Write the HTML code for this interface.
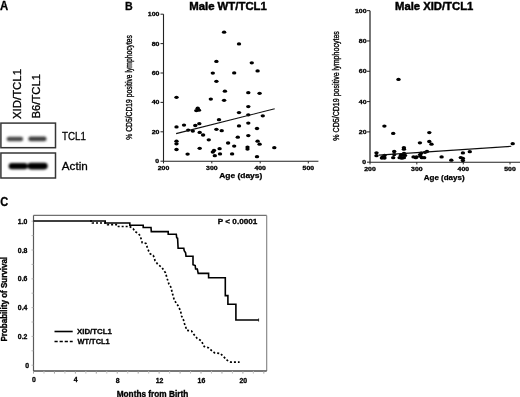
<!DOCTYPE html>
<html><head><meta charset="utf-8"><style>
html,body{margin:0;padding:0;background:#fff;width:520px;height:397px;overflow:hidden}
svg{display:block;font-family:"Liberation Sans", sans-serif}
</style></head><body>
<svg width="520" height="397" viewBox="0 0 520 397">
<defs><filter id="blur1" x="-20%" y="-50%" width="140%" height="200%"><feGaussianBlur stdDeviation="0.9"/></filter>
<filter id="soft" x="0" y="0" width="100%" height="100%"><feGaussianBlur stdDeviation="0.3"/></filter></defs>
<rect width="520" height="397" fill="#fff"/>
<g filter="url(#soft)">
<text x="0" y="9.6" font-size="12" font-weight="bold" text-anchor="start" fill="#000" textLength="8.2" lengthAdjust="spacingAndGlyphs" stroke="#000" stroke-width="0.3">A</text>
<text transform="translate(21.0,119) rotate(-90)" x="0" y="0" font-size="11.2" font-weight="normal" fill="#000" textLength="50" lengthAdjust="spacingAndGlyphs" stroke="#000" stroke-width="0.3">XID/TCL1</text>
<text transform="translate(40.0,118.5) rotate(-90)" x="0" y="0" font-size="11.2" font-weight="normal" fill="#000" textLength="44.5" lengthAdjust="spacingAndGlyphs" stroke="#000" stroke-width="0.3">B6/TCL1</text>
<rect x="0.9" y="123.1" width="54.6" height="24.6" fill="none" stroke="#363636" stroke-width="1.5"/>
<rect x="0.9" y="153.0" width="54.6" height="25.0" fill="none" stroke="#363636" stroke-width="1.5"/>
<g filter="url(#blur1)">
<rect x="6.6" y="136.8" width="16.6" height="4.4" rx="2.2" fill="#4a4a4a"/>
<rect x="28.3" y="136.6" width="18.3" height="4.6" rx="2.3" fill="#404040"/>
<rect x="8.6" y="162.9" width="19.2" height="6.4" rx="3.2" fill="#000"/>
<rect x="27.5" y="162.7" width="20.2" height="6.7" rx="3.3" fill="#000"/>
</g>
<text x="62.1" y="140.1" font-size="11.4" font-weight="normal" text-anchor="start" fill="#000" textLength="23.9" lengthAdjust="spacingAndGlyphs" stroke="#000" stroke-width="0.3">TCL1</text>
<text x="61.8" y="169.9" font-size="11.4" font-weight="normal" text-anchor="start" fill="#000" textLength="26.0" lengthAdjust="spacingAndGlyphs" stroke="#000" stroke-width="0.3">Actin</text>
<text x="125" y="10" font-size="11.8" font-weight="bold" text-anchor="start" fill="#000" textLength="7.7" lengthAdjust="spacingAndGlyphs" stroke="#000" stroke-width="0.3">B</text>
<text x="189.2" y="9.6" font-size="11.5" font-weight="bold" text-anchor="start" fill="#000" textLength="77.7" lengthAdjust="spacingAndGlyphs" stroke="#000" stroke-width="0.45">Male WT/TCL1</text>
<line x1="163.5" y1="14.199999999999989" x2="163.5" y2="161.2" stroke="#222" stroke-width="1.1"/>
<line x1="163.5" y1="161.2" x2="318.4" y2="161.2" stroke="#222" stroke-width="1.1"/>
<line x1="160.5" y1="161.2" x2="163.5" y2="161.2" stroke="#222" stroke-width="1"/>
<text x="159.1" y="163.25" font-size="5.7" font-weight="bold" text-anchor="end" fill="#000" textLength="3.85" lengthAdjust="spacingAndGlyphs" stroke="#000" stroke-width="0.3">0</text>
<line x1="160.5" y1="131.79999999999998" x2="163.5" y2="131.79999999999998" stroke="#222" stroke-width="1"/>
<text x="159.4" y="133.85" font-size="5.7" font-weight="bold" text-anchor="end" fill="#000" textLength="7.7" lengthAdjust="spacingAndGlyphs" stroke="#000" stroke-width="0.3">20</text>
<line x1="160.5" y1="102.39999999999999" x2="163.5" y2="102.39999999999999" stroke="#222" stroke-width="1"/>
<text x="159.4" y="104.44999999999999" font-size="5.7" font-weight="bold" text-anchor="end" fill="#000" textLength="7.7" lengthAdjust="spacingAndGlyphs" stroke="#000" stroke-width="0.3">40</text>
<line x1="160.5" y1="72.99999999999999" x2="163.5" y2="72.99999999999999" stroke="#222" stroke-width="1"/>
<text x="159.4" y="75.04999999999998" font-size="5.7" font-weight="bold" text-anchor="end" fill="#000" textLength="7.7" lengthAdjust="spacingAndGlyphs" stroke="#000" stroke-width="0.3">60</text>
<line x1="160.5" y1="43.599999999999994" x2="163.5" y2="43.599999999999994" stroke="#222" stroke-width="1"/>
<text x="159.4" y="45.64999999999999" font-size="5.7" font-weight="bold" text-anchor="end" fill="#000" textLength="7.7" lengthAdjust="spacingAndGlyphs" stroke="#000" stroke-width="0.3">80</text>
<line x1="160.5" y1="14.199999999999989" x2="163.5" y2="14.199999999999989" stroke="#222" stroke-width="1"/>
<text x="159.4" y="16.24999999999999" font-size="5.7" font-weight="bold" text-anchor="end" fill="#000" textLength="11.55" lengthAdjust="spacingAndGlyphs" stroke="#000" stroke-width="0.3">100</text>
<line x1="163.5" y1="161.2" x2="163.5" y2="163.39999999999998" stroke="#222" stroke-width="1"/>
<text x="163.5" y="169.7" font-size="5.7" font-weight="bold" text-anchor="middle" fill="#000" textLength="11.5" lengthAdjust="spacingAndGlyphs" stroke="#000" stroke-width="0.3">200</text>
<line x1="211.8" y1="161.2" x2="211.8" y2="163.39999999999998" stroke="#222" stroke-width="1"/>
<text x="211.8" y="169.7" font-size="5.7" font-weight="bold" text-anchor="middle" fill="#000" textLength="11.5" lengthAdjust="spacingAndGlyphs" stroke="#000" stroke-width="0.3">300</text>
<line x1="260.2" y1="161.2" x2="260.2" y2="163.39999999999998" stroke="#222" stroke-width="1"/>
<text x="260.2" y="169.7" font-size="5.7" font-weight="bold" text-anchor="middle" fill="#000" textLength="11.5" lengthAdjust="spacingAndGlyphs" stroke="#000" stroke-width="0.3">400</text>
<line x1="308.3" y1="161.2" x2="308.3" y2="163.39999999999998" stroke="#222" stroke-width="1"/>
<text x="308.3" y="169.7" font-size="5.7" font-weight="bold" text-anchor="middle" fill="#000" textLength="11.5" lengthAdjust="spacingAndGlyphs" stroke="#000" stroke-width="0.3">500</text>
<text x="219.2" y="178.0" font-size="6.8" font-weight="bold" text-anchor="start" fill="#000" textLength="43.10000000000002" lengthAdjust="spacingAndGlyphs" stroke="#000" stroke-width="0.25">Age (days)</text>
<text transform="translate(131.7,139.7) rotate(-90)" x="0" y="0" font-size="8.7" font-weight="normal" fill="#000" textLength="104.6" lengthAdjust="spacingAndGlyphs" stroke="#000" stroke-width="0.35">% CD5/CD19 positive lymphocytes</text>
<ellipse cx="224.1" cy="32.2" rx="2.2" ry="1.65" fill="#000"/>
<ellipse cx="239.0" cy="43.9" rx="2.2" ry="1.65" fill="#000"/>
<ellipse cx="216.4" cy="61.4" rx="2.2" ry="1.65" fill="#000"/>
<ellipse cx="212.8" cy="73.1" rx="2.2" ry="1.65" fill="#000"/>
<ellipse cx="234.2" cy="72.9" rx="2.2" ry="1.65" fill="#000"/>
<ellipse cx="216.4" cy="81.3" rx="2.2" ry="1.65" fill="#000"/>
<ellipse cx="251.8" cy="62.8" rx="2.2" ry="1.65" fill="#000"/>
<ellipse cx="257.6" cy="70.9" rx="2.2" ry="1.65" fill="#000"/>
<ellipse cx="176.5" cy="97.3" rx="2.2" ry="1.65" fill="#000"/>
<ellipse cx="224.9" cy="91.2" rx="2.2" ry="1.65" fill="#000"/>
<ellipse cx="210.8" cy="99.1" rx="2.2" ry="1.65" fill="#000"/>
<ellipse cx="224.1" cy="100.3" rx="2.2" ry="1.65" fill="#000"/>
<ellipse cx="197.7" cy="108.2" rx="2.2" ry="1.65" fill="#000"/>
<ellipse cx="196.3" cy="110.6" rx="2.2" ry="1.65" fill="#000"/>
<ellipse cx="198.9" cy="110.2" rx="2.2" ry="1.65" fill="#000"/>
<ellipse cx="239.0" cy="112.6" rx="2.2" ry="1.65" fill="#000"/>
<ellipse cx="219.0" cy="119.7" rx="2.2" ry="1.65" fill="#000"/>
<ellipse cx="176.5" cy="126.9" rx="2.2" ry="1.65" fill="#000"/>
<ellipse cx="184.0" cy="125.1" rx="2.2" ry="1.65" fill="#000"/>
<ellipse cx="195.3" cy="125.5" rx="2.2" ry="1.65" fill="#000"/>
<ellipse cx="199.3" cy="123.7" rx="2.2" ry="1.65" fill="#000"/>
<ellipse cx="239.0" cy="125.9" rx="2.2" ry="1.65" fill="#000"/>
<ellipse cx="188.2" cy="130.1" rx="2.2" ry="1.65" fill="#000"/>
<ellipse cx="192.8" cy="131.1" rx="2.2" ry="1.65" fill="#000"/>
<ellipse cx="216.4" cy="129.3" rx="2.2" ry="1.65" fill="#000"/>
<ellipse cx="221.7" cy="130.7" rx="2.2" ry="1.65" fill="#000"/>
<ellipse cx="199.7" cy="132.4" rx="2.2" ry="1.65" fill="#000"/>
<ellipse cx="203.1" cy="135.0" rx="2.2" ry="1.65" fill="#000"/>
<ellipse cx="237.8" cy="137.2" rx="2.2" ry="1.65" fill="#000"/>
<ellipse cx="208.8" cy="139.8" rx="2.2" ry="1.65" fill="#000"/>
<ellipse cx="176.5" cy="141.2" rx="2.2" ry="1.65" fill="#000"/>
<ellipse cx="176.5" cy="143.8" rx="2.2" ry="1.65" fill="#000"/>
<ellipse cx="228.1" cy="143.0" rx="2.2" ry="1.65" fill="#000"/>
<ellipse cx="234.2" cy="146.1" rx="2.2" ry="1.65" fill="#000"/>
<ellipse cx="176.5" cy="149.5" rx="2.2" ry="1.65" fill="#000"/>
<ellipse cx="199.7" cy="148.3" rx="2.2" ry="1.65" fill="#000"/>
<ellipse cx="219.6" cy="148.7" rx="2.2" ry="1.65" fill="#000"/>
<ellipse cx="214.0" cy="150.5" rx="2.2" ry="1.65" fill="#000"/>
<ellipse cx="212.8" cy="152.1" rx="2.2" ry="1.65" fill="#000"/>
<ellipse cx="187.6" cy="154.1" rx="2.2" ry="1.65" fill="#000"/>
<ellipse cx="214.8" cy="155.7" rx="2.2" ry="1.65" fill="#000"/>
<ellipse cx="220.0" cy="153.9" rx="2.2" ry="1.65" fill="#000"/>
<ellipse cx="232.1" cy="153.9" rx="2.2" ry="1.65" fill="#000"/>
<ellipse cx="248.3" cy="92.7" rx="2.2" ry="1.65" fill="#000"/>
<ellipse cx="259.6" cy="93.3" rx="2.2" ry="1.65" fill="#000"/>
<ellipse cx="248.3" cy="106.6" rx="2.2" ry="1.65" fill="#000"/>
<ellipse cx="248.3" cy="114.8" rx="2.2" ry="1.65" fill="#000"/>
<ellipse cx="262.8" cy="115.8" rx="2.2" ry="1.65" fill="#000"/>
<ellipse cx="248.3" cy="123.1" rx="2.2" ry="1.65" fill="#000"/>
<ellipse cx="257.0" cy="128.5" rx="2.2" ry="1.65" fill="#000"/>
<ellipse cx="248.3" cy="135.6" rx="2.2" ry="1.65" fill="#000"/>
<ellipse cx="257.6" cy="141.2" rx="2.2" ry="1.65" fill="#000"/>
<ellipse cx="259.6" cy="144.2" rx="2.2" ry="1.65" fill="#000"/>
<ellipse cx="247.5" cy="147.1" rx="2.2" ry="1.65" fill="#000"/>
<ellipse cx="247.5" cy="149.1" rx="2.2" ry="1.65" fill="#000"/>
<ellipse cx="274.3" cy="147.7" rx="2.2" ry="1.65" fill="#000"/>
<ellipse cx="257.0" cy="156.7" rx="2.2" ry="1.65" fill="#000"/>
<line x1="176.1" y1="133.6" x2="274.7" y2="108.8" stroke="#111" stroke-width="1.15"/>
<text x="395" y="9.6" font-size="11.5" font-weight="bold" text-anchor="start" fill="#000" textLength="78.3" lengthAdjust="spacingAndGlyphs" stroke="#000" stroke-width="0.45">Male XID/TCL1</text>
<line x1="370.0" y1="10.649999999999977" x2="370.0" y2="162.2" stroke="#4a4a4a" stroke-width="1.5"/>
<line x1="370.0" y1="162.2" x2="520" y2="162.2" stroke="#222" stroke-width="1.1"/>
<line x1="367.0" y1="162.2" x2="370.0" y2="162.2" stroke="#222" stroke-width="1"/>
<text x="366.2" y="164.25" font-size="5.7" font-weight="bold" text-anchor="end" fill="#000" textLength="3.85" lengthAdjust="spacingAndGlyphs" stroke="#000" stroke-width="0.3">0</text>
<line x1="367.0" y1="131.89" x2="370.0" y2="131.89" stroke="#222" stroke-width="1"/>
<text x="366.5" y="133.94" font-size="5.7" font-weight="bold" text-anchor="end" fill="#000" textLength="7.7" lengthAdjust="spacingAndGlyphs" stroke="#000" stroke-width="0.3">20</text>
<line x1="367.0" y1="101.57999999999998" x2="370.0" y2="101.57999999999998" stroke="#222" stroke-width="1"/>
<text x="366.5" y="103.62999999999998" font-size="5.7" font-weight="bold" text-anchor="end" fill="#000" textLength="7.7" lengthAdjust="spacingAndGlyphs" stroke="#000" stroke-width="0.3">40</text>
<line x1="367.0" y1="71.26999999999998" x2="370.0" y2="71.26999999999998" stroke="#222" stroke-width="1"/>
<text x="366.5" y="73.31999999999998" font-size="5.7" font-weight="bold" text-anchor="end" fill="#000" textLength="7.7" lengthAdjust="spacingAndGlyphs" stroke="#000" stroke-width="0.3">60</text>
<line x1="367.0" y1="40.95999999999998" x2="370.0" y2="40.95999999999998" stroke="#222" stroke-width="1"/>
<text x="366.5" y="43.00999999999998" font-size="5.7" font-weight="bold" text-anchor="end" fill="#000" textLength="7.7" lengthAdjust="spacingAndGlyphs" stroke="#000" stroke-width="0.3">80</text>
<line x1="367.0" y1="10.649999999999977" x2="370.0" y2="10.649999999999977" stroke="#222" stroke-width="1"/>
<text x="366.5" y="12.699999999999978" font-size="5.7" font-weight="bold" text-anchor="end" fill="#000" textLength="11.55" lengthAdjust="spacingAndGlyphs" stroke="#000" stroke-width="0.3">100</text>
<line x1="370.0" y1="162.2" x2="370.0" y2="164.39999999999998" stroke="#222" stroke-width="1"/>
<text x="370.0" y="170.6" font-size="5.7" font-weight="bold" text-anchor="middle" fill="#000" textLength="11.5" lengthAdjust="spacingAndGlyphs" stroke="#000" stroke-width="0.3">200</text>
<line x1="416.8" y1="162.2" x2="416.8" y2="164.39999999999998" stroke="#222" stroke-width="1"/>
<text x="416.8" y="170.6" font-size="5.7" font-weight="bold" text-anchor="middle" fill="#000" textLength="11.5" lengthAdjust="spacingAndGlyphs" stroke="#000" stroke-width="0.3">300</text>
<line x1="463.3" y1="162.2" x2="463.3" y2="164.39999999999998" stroke="#222" stroke-width="1"/>
<text x="463.3" y="170.6" font-size="5.7" font-weight="bold" text-anchor="middle" fill="#000" textLength="11.5" lengthAdjust="spacingAndGlyphs" stroke="#000" stroke-width="0.3">400</text>
<line x1="510.0" y1="162.2" x2="510.0" y2="164.39999999999998" stroke="#222" stroke-width="1"/>
<text x="510.0" y="170.6" font-size="5.7" font-weight="bold" text-anchor="middle" fill="#000" textLength="11.5" lengthAdjust="spacingAndGlyphs" stroke="#000" stroke-width="0.3">500</text>
<text x="423.8" y="179.6" font-size="6.8" font-weight="bold" text-anchor="start" fill="#000" textLength="40.80000000000001" lengthAdjust="spacingAndGlyphs" stroke="#000" stroke-width="0.25">Age (days)</text>
<text transform="translate(339.2,140.7) rotate(-90)" x="0" y="0" font-size="8.9" font-weight="normal" fill="#000" textLength="109.6" lengthAdjust="spacingAndGlyphs" stroke="#000" stroke-width="0.35">% CD5/CD19 positive lymphocytes</text>
<ellipse cx="398.5" cy="79.4" rx="2.2" ry="1.65" fill="#000"/>
<ellipse cx="384.4" cy="126.1" rx="2.2" ry="1.65" fill="#000"/>
<ellipse cx="393.2" cy="133.4" rx="2.2" ry="1.65" fill="#000"/>
<ellipse cx="429.3" cy="132.6" rx="2.2" ry="1.65" fill="#000"/>
<ellipse cx="419.9" cy="142.8" rx="2.2" ry="1.65" fill="#000"/>
<ellipse cx="429.3" cy="141.5" rx="2.2" ry="1.65" fill="#000"/>
<ellipse cx="431.5" cy="144.2" rx="2.2" ry="1.65" fill="#000"/>
<ellipse cx="403.9" cy="147.7" rx="2.2" ry="1.65" fill="#000"/>
<ellipse cx="403.9" cy="149.2" rx="2.2" ry="1.65" fill="#000"/>
<ellipse cx="376.5" cy="152.8" rx="2.2" ry="1.65" fill="#000"/>
<ellipse cx="376.5" cy="155.7" rx="2.2" ry="1.65" fill="#000"/>
<ellipse cx="382.7" cy="156.9" rx="2.2" ry="1.65" fill="#000"/>
<ellipse cx="384.5" cy="158" rx="2.2" ry="1.65" fill="#000"/>
<ellipse cx="381.9" cy="158" rx="2.2" ry="1.65" fill="#000"/>
<ellipse cx="394.2" cy="151.5" rx="2.2" ry="1.65" fill="#000"/>
<ellipse cx="394.2" cy="154.6" rx="2.2" ry="1.65" fill="#000"/>
<ellipse cx="393.2" cy="157.7" rx="2.2" ry="1.65" fill="#000"/>
<ellipse cx="399.6" cy="157.7" rx="2.2" ry="1.65" fill="#000"/>
<ellipse cx="401.2" cy="155.4" rx="2.2" ry="1.65" fill="#000"/>
<ellipse cx="403.5" cy="154.6" rx="2.2" ry="1.65" fill="#000"/>
<ellipse cx="405" cy="155.4" rx="2.2" ry="1.65" fill="#000"/>
<ellipse cx="403.9" cy="157.7" rx="2.2" ry="1.65" fill="#000"/>
<ellipse cx="401.9" cy="158.2" rx="2.2" ry="1.65" fill="#000"/>
<ellipse cx="413.5" cy="156.9" rx="2.2" ry="1.65" fill="#000"/>
<ellipse cx="415.8" cy="157.7" rx="2.2" ry="1.65" fill="#000"/>
<ellipse cx="416.5" cy="156.9" rx="2.2" ry="1.65" fill="#000"/>
<ellipse cx="420.4" cy="156.2" rx="2.2" ry="1.65" fill="#000"/>
<ellipse cx="421.2" cy="153.1" rx="2.2" ry="1.65" fill="#000"/>
<ellipse cx="421.9" cy="157.7" rx="2.2" ry="1.65" fill="#000"/>
<ellipse cx="424.2" cy="157.7" rx="2.2" ry="1.65" fill="#000"/>
<ellipse cx="425" cy="152.3" rx="2.2" ry="1.65" fill="#000"/>
<ellipse cx="427" cy="151.5" rx="2.2" ry="1.65" fill="#000"/>
<ellipse cx="512.7" cy="143.7" rx="2.2" ry="1.65" fill="#000"/>
<ellipse cx="469.8" cy="151.7" rx="2.2" ry="1.65" fill="#000"/>
<ellipse cx="462.9" cy="152.9" rx="2.2" ry="1.65" fill="#000"/>
<ellipse cx="441.6" cy="156.9" rx="2.2" ry="1.65" fill="#000"/>
<ellipse cx="451.3" cy="160.2" rx="2.2" ry="1.65" fill="#000"/>
<ellipse cx="460.8" cy="157.6" rx="2.2" ry="1.65" fill="#000"/>
<ellipse cx="462.9" cy="158.4" rx="2.2" ry="1.65" fill="#000"/>
<ellipse cx="462.9" cy="160.6" rx="2.2" ry="1.65" fill="#000"/>
<ellipse cx="384.5" cy="155.5" rx="2.2" ry="1.65" fill="#000"/>
<ellipse cx="404" cy="153.3" rx="2.2" ry="1.65" fill="#000"/>
<ellipse cx="401" cy="155.2" rx="2.2" ry="1.65" fill="#000"/>
<ellipse cx="420.1" cy="154.6" rx="2.2" ry="1.65" fill="#000"/>
<line x1="378.8" y1="155.1" x2="511.3" y2="146.3" stroke="#111" stroke-width="1.15"/>
<text x="0.2" y="205.7" font-size="12.4" font-weight="bold" text-anchor="start" fill="#000" textLength="8.0" lengthAdjust="spacingAndGlyphs" stroke="#000" stroke-width="0.3">C</text>
<line x1="33.5" y1="215.4" x2="266.7" y2="215.4" stroke="#707070" stroke-width="1.2"/>
<line x1="266.7" y1="215.4" x2="266.7" y2="371.0" stroke="#808080" stroke-width="1.1"/>
<line x1="33.5" y1="215.4" x2="33.5" y2="371.0" stroke="#5a5a5a" stroke-width="1.2"/>
<line x1="33.5" y1="371.0" x2="266.7" y2="371.0" stroke="#4a4a4a" stroke-width="1.3"/>
<line x1="31.5" y1="365.2" x2="33.5" y2="365.2" stroke="#aaa" stroke-width="0.8"/>
<line x1="31.5" y1="350.8" x2="33.5" y2="350.8" stroke="#aaa" stroke-width="0.8"/>
<line x1="31.5" y1="336.4" x2="33.5" y2="336.4" stroke="#aaa" stroke-width="0.8"/>
<line x1="31.5" y1="322.0" x2="33.5" y2="322.0" stroke="#aaa" stroke-width="0.8"/>
<line x1="31.5" y1="307.59999999999997" x2="33.5" y2="307.59999999999997" stroke="#aaa" stroke-width="0.8"/>
<line x1="31.5" y1="293.2" x2="33.5" y2="293.2" stroke="#aaa" stroke-width="0.8"/>
<line x1="31.5" y1="278.8" x2="33.5" y2="278.8" stroke="#aaa" stroke-width="0.8"/>
<line x1="31.5" y1="264.4" x2="33.5" y2="264.4" stroke="#aaa" stroke-width="0.8"/>
<line x1="31.5" y1="250.0" x2="33.5" y2="250.0" stroke="#aaa" stroke-width="0.8"/>
<line x1="31.5" y1="235.6" x2="33.5" y2="235.6" stroke="#aaa" stroke-width="0.8"/>
<line x1="31.5" y1="221.2" x2="33.5" y2="221.2" stroke="#aaa" stroke-width="0.8"/>
<text x="27.4" y="223.7" font-size="6.9" font-weight="bold" text-anchor="end" fill="#000" stroke="#000" stroke-width="0.3">1.0</text>
<text x="27.4" y="252.5" font-size="6.9" font-weight="bold" text-anchor="end" fill="#000" stroke="#000" stroke-width="0.3">0.8</text>
<text x="27.4" y="281.3" font-size="6.9" font-weight="bold" text-anchor="end" fill="#000" stroke="#000" stroke-width="0.3">0.6</text>
<text x="27.4" y="310.09999999999997" font-size="6.9" font-weight="bold" text-anchor="end" fill="#000" stroke="#000" stroke-width="0.3">0.4</text>
<text x="27.4" y="338.9" font-size="6.9" font-weight="bold" text-anchor="end" fill="#000" stroke="#000" stroke-width="0.3">0.2</text>
<text x="29.0" y="367.7" font-size="6.9" font-weight="bold" text-anchor="end" fill="#000" stroke="#000" stroke-width="0.3">0</text>
<line x1="33.5" y1="371.0" x2="33.5" y2="373.6" stroke="#999" stroke-width="0.9"/>
<line x1="43.97" y1="371.0" x2="43.97" y2="373.6" stroke="#bbb" stroke-width="0.9"/>
<line x1="54.44" y1="371.0" x2="54.44" y2="373.6" stroke="#999" stroke-width="0.9"/>
<line x1="64.91" y1="371.0" x2="64.91" y2="373.6" stroke="#bbb" stroke-width="0.9"/>
<line x1="75.38" y1="371.0" x2="75.38" y2="373.6" stroke="#999" stroke-width="0.9"/>
<line x1="85.85" y1="371.0" x2="85.85" y2="373.6" stroke="#bbb" stroke-width="0.9"/>
<line x1="96.32000000000001" y1="371.0" x2="96.32000000000001" y2="373.6" stroke="#999" stroke-width="0.9"/>
<line x1="106.79" y1="371.0" x2="106.79" y2="373.6" stroke="#bbb" stroke-width="0.9"/>
<line x1="117.26" y1="371.0" x2="117.26" y2="373.6" stroke="#999" stroke-width="0.9"/>
<line x1="127.73" y1="371.0" x2="127.73" y2="373.6" stroke="#bbb" stroke-width="0.9"/>
<line x1="138.2" y1="371.0" x2="138.2" y2="373.6" stroke="#999" stroke-width="0.9"/>
<line x1="148.67000000000002" y1="371.0" x2="148.67000000000002" y2="373.6" stroke="#bbb" stroke-width="0.9"/>
<line x1="159.14000000000001" y1="371.0" x2="159.14000000000001" y2="373.6" stroke="#999" stroke-width="0.9"/>
<line x1="169.61" y1="371.0" x2="169.61" y2="373.6" stroke="#bbb" stroke-width="0.9"/>
<line x1="180.08" y1="371.0" x2="180.08" y2="373.6" stroke="#999" stroke-width="0.9"/>
<line x1="190.55" y1="371.0" x2="190.55" y2="373.6" stroke="#bbb" stroke-width="0.9"/>
<line x1="201.02" y1="371.0" x2="201.02" y2="373.6" stroke="#999" stroke-width="0.9"/>
<line x1="211.49" y1="371.0" x2="211.49" y2="373.6" stroke="#bbb" stroke-width="0.9"/>
<line x1="221.96" y1="371.0" x2="221.96" y2="373.6" stroke="#999" stroke-width="0.9"/>
<line x1="232.43" y1="371.0" x2="232.43" y2="373.6" stroke="#bbb" stroke-width="0.9"/>
<line x1="242.9" y1="371.0" x2="242.9" y2="373.6" stroke="#999" stroke-width="0.9"/>
<line x1="253.37" y1="371.0" x2="253.37" y2="373.6" stroke="#bbb" stroke-width="0.9"/>
<line x1="263.84000000000003" y1="371.0" x2="263.84000000000003" y2="373.6" stroke="#999" stroke-width="0.9"/>
<text x="33.9" y="381.7" font-size="6.9" font-weight="bold" text-anchor="middle" fill="#000" stroke="#000" stroke-width="0.3">0</text>
<text x="75.78" y="382.2" font-size="6.9" font-weight="bold" text-anchor="middle" fill="#000" stroke="#000" stroke-width="0.3">4</text>
<text x="117.66000000000001" y="383.3" font-size="6.9" font-weight="bold" text-anchor="middle" fill="#000" stroke="#000" stroke-width="0.3">8</text>
<text x="159.54000000000002" y="383.3" font-size="6.9" font-weight="bold" text-anchor="middle" fill="#000" stroke="#000" stroke-width="0.3">12</text>
<text x="201.42000000000002" y="383.3" font-size="6.9" font-weight="bold" text-anchor="middle" fill="#000" stroke="#000" stroke-width="0.3">16</text>
<text x="243.3" y="383.3" font-size="6.9" font-weight="bold" text-anchor="middle" fill="#000" stroke="#000" stroke-width="0.3">20</text>
<text x="116.7" y="397.2" font-size="8.6" font-weight="bold" text-anchor="start" fill="#000" textLength="71.6" lengthAdjust="spacingAndGlyphs" stroke="#000" stroke-width="0.35">Months from Birth</text>
<text transform="translate(6.6,341.5) rotate(-90)" x="0" y="0" font-size="8.6" font-weight="bold" fill="#000" textLength="84.60000000000002" lengthAdjust="spacingAndGlyphs" stroke="#000" stroke-width="0.35">Probability of Survival</text>
<text x="217.8" y="223.9" font-size="8.0" font-weight="bold" text-anchor="start" fill="#000" textLength="39.5" lengthAdjust="spacingAndGlyphs" stroke="#000" stroke-width="0.3">P &lt; 0.0001</text>
<line x1="54.5" y1="331.5" x2="72.7" y2="331.5" stroke="#000" stroke-width="1.6"/>
<line x1="54.5" y1="341.5" x2="72.7" y2="341.5" stroke="#000" stroke-width="1.6" stroke-dasharray="3.2,1.9"/>
<text x="77.0" y="334.2" font-size="8.0" font-weight="bold" text-anchor="start" fill="#000" textLength="34.9" lengthAdjust="spacingAndGlyphs" stroke="#000" stroke-width="0.3">XID/TCL1</text>
<text x="77.6" y="344.2" font-size="8.0" font-weight="bold" text-anchor="start" fill="#000" textLength="32.0" lengthAdjust="spacingAndGlyphs" stroke="#000" stroke-width="0.3">WT/TCL1</text>
<polyline points="33.5,221.0 105.2,221.0 105.2,223.0 129.8,223.0 129.8,225.2 143.2,225.2 143.2,227.5 151.0,227.5 151.3,231.6 168.2,231.6 168.2,234.3 176.3,234.3 176.7,237.8 177.6,238.2 178.1,248.3 183.8,248.3 184.2,250.6 185.6,252.8 186.0,256.2 193.0,256.2 193.0,264.7 195.2,265.6 195.6,269.0 197.3,269.0 198.2,273.4 208.6,273.4 208.6,277.8 225.3,277.8 225.3,295.6 227.9,295.6 227.9,304.3 235.9,304.3 235.9,320.0 258.6,320.0" fill="none" stroke="#000" stroke-width="1.6" stroke-linejoin="miter"/>
<line x1="258.6" y1="318.5" x2="258.6" y2="321.5" stroke="#000" stroke-width="0.8"/>
<polyline points="90,221 92.5,221.0 92.5,223.0 106.5,223.0 107.5,224.6 118.0,224.6 118.5,226.5 129.6,226.5 133.1,228.6 135.1,231.6 137.6,233.1 140.2,235.6 141.2,239.2 142.2,242.7 146.0,243.4 147.2,247.2 148.7,251.2 150.2,253.8 153.2,255.3 154.3,257.8 155.0,260.6 157.6,264.1 162.0,267.6 165.5,272.9 167.3,279.0 169.0,284.3 170.8,287.0 172.6,294.0 174.3,300.2 177.9,305.5 180.5,310.7 181.6,316.0 183.5,320.0 184.6,324.0 186.9,330.4 191.5,331.0 193.8,334.4 197.3,338.5 201.3,340.8 204.2,346.5 208.3,347.7 211.7,350.6 214.6,352.9 220.4,353.5 223.8,356.9 227.3,360.4 230.8,362.1 239.6,362.1" fill="none" stroke="#000" stroke-width="1.7" stroke-dasharray="2.0,2.0"/>
</g>
</svg>
</body></html>
